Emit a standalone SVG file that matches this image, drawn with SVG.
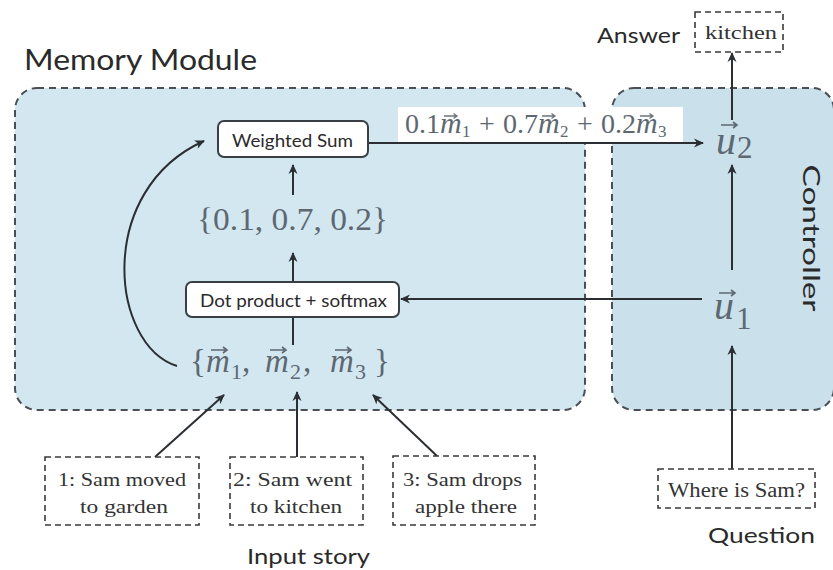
<svg xmlns="http://www.w3.org/2000/svg" width="833" height="570" viewBox="0 0 833 570">
  <defs>
    <marker id="arr" viewBox="0 0 10 10" refX="9" refY="5" markerWidth="10" markerHeight="10" markerUnits="userSpaceOnUse" orient="auto">
      <path d="M0,0.5 L10,5 L0,9.5 L3,5 Z" fill="#2b2f33"/>
    </marker>
    <!-- small vector accent drawn over math symbols -->
    <path id="vec" d="M0,0 H16 M12,-3 L16,0 L12,3" fill="none" stroke="#5e6871" stroke-width="1.6"/>
    <path id="vec-s" d="M0,0 H13 M9.5,-2.5 L13,0 L9.5,2.5" fill="none" stroke="#6b747c" stroke-width="1.3"/>
    <style>
      .sans { font-family: Lato, "Open Sans", "Liberation Sans", sans-serif; fill: #2a2a2a; }
      .serif { font-family: "Liberation Serif", "DejaVu Serif", serif; fill: #333; }
      .math { font-family: "Liberation Serif", "DejaVu Serif", serif; fill: #5e6871; }
      .mi { font-style: italic; }
      .region { stroke: #4a4f55; stroke-width: 2; stroke-dasharray: 7 5; }
      .dash { fill: #fff; stroke: #3a3a3a; stroke-width: 1.6; stroke-dasharray: 6 4; }
      .op { fill: #fff; stroke: #3a3f44; stroke-width: 2; }
      .edge { fill: none; stroke: #2b2f33; stroke-width: 2; }
    </style>
  </defs>

  <rect width="833" height="570" fill="#fff"/>

  <!-- Regions -->
  <g id="memory-module">
    <rect class="region" x="15" y="88" width="570" height="322" rx="22" fill="#d3e7f1"/>
    <text class="sans" x="24" y="70" font-size="28" textLength="233" lengthAdjust="spacingAndGlyphs">Memory Module</text>
  </g>
  <g id="controller">
    <rect class="region" x="612" y="88" width="222" height="322" rx="22" fill="#cae0eb"/>
    <text class="sans" font-size="24" transform="translate(803,238) rotate(90)" text-anchor="middle" textLength="147" lengthAdjust="spacingAndGlyphs">Controller</text>
  </g>

  <!-- Connectors -->
  <g id="connectors">
    <path class="edge" d="M177,366 C110,345 95,190 204,141" marker-end="url(#arr)"/>
    <line class="edge" x1="293" y1="195" x2="293" y2="165" marker-end="url(#arr)"/>
    <line class="edge" x1="293" y1="282" x2="293" y2="253" marker-end="url(#arr)"/>
    <line class="edge" x1="293" y1="345" x2="293" y2="317"/>
    <line class="edge" x1="368" y1="143" x2="703" y2="143" marker-end="url(#arr)"/>
    <line class="edge" x1="702" y1="299" x2="401" y2="299" marker-end="url(#arr)"/>
    <line class="edge" x1="732" y1="270" x2="732" y2="165" marker-end="url(#arr)"/>
    <line class="edge" x1="732" y1="120" x2="732" y2="53" marker-end="url(#arr)"/>
    <line class="edge" x1="732" y1="478" x2="732" y2="346" marker-end="url(#arr)"/>
    <line class="edge" x1="155" y1="457" x2="224" y2="395" marker-end="url(#arr)"/>
    <line class="edge" x1="297" y1="457" x2="297" y2="392" marker-end="url(#arr)"/>
    <line class="edge" x1="437" y1="456" x2="373" y2="395" marker-end="url(#arr)"/>
  </g>

  <!-- Weighted sum label on the memory-to-controller edge -->
  <g id="sum-label">
    <rect x="398" y="107" width="285" height="35" fill="#fff"/>
    <text class="math" y="133" font-size="28"><tspan x="405">0.1</tspan><tspan x="440" class="mi" font-size="30">m</tspan><tspan x="462" y="137" font-size="17">1</tspan><tspan x="479" y="133">+</tspan><tspan x="503">0.7</tspan><tspan x="538" class="mi" font-size="30">m</tspan><tspan x="560" y="137" font-size="17">2</tspan><tspan x="577" y="133">+</tspan><tspan x="601">0.2</tspan><tspan x="636" class="mi" font-size="30">m</tspan><tspan x="658" y="137" font-size="17">3</tspan></text>
    <use href="#vec-s" x="444" y="116"/>
    <use href="#vec-s" x="542" y="116"/>
    <use href="#vec-s" x="640" y="116"/>
  </g>

  <!-- Operations -->
  <g id="weighted-sum">
    <rect class="op" x="218" y="121" width="150" height="36" rx="6"/>
    <text class="sans" x="232" y="147" font-size="17" textLength="121" lengthAdjust="spacingAndGlyphs">Weighted Sum</text>
  </g>
  <g id="weights">
    <text class="math" x="197" y="230" font-size="32" textLength="191" lengthAdjust="spacingAndGlyphs">{0.1, 0.7, 0.2}</text>
  </g>
  <g id="dot-softmax">
    <rect class="op" x="186" y="282" width="213" height="35" rx="6"/>
    <text class="sans" x="200" y="307" font-size="17" textLength="187" lengthAdjust="spacingAndGlyphs">Dot product + softmax</text>
  </g>
  <g id="memories">
    <text class="math" y="372" font-size="33"><tspan x="190">{</tspan><tspan x="206" class="mi">m</tspan><tspan x="231" y="379" font-size="22">1</tspan><tspan x="242" y="372">,</tspan><tspan x="265" class="mi">m</tspan><tspan x="290" y="379" font-size="22">2</tspan><tspan x="303" y="372">,</tspan><tspan x="330" class="mi">m</tspan><tspan x="355" y="379" font-size="22">3</tspan><tspan x="374" y="372">}</tspan></text>
    <use href="#vec" x="211" y="350"/>
    <use href="#vec" x="270" y="350"/>
    <use href="#vec" x="335" y="350"/>
  </g>

  <!-- Controller states -->
  <g id="u1">
    <text class="math" y="319" font-size="40"><tspan x="714" class="mi">u</tspan><tspan x="736" y="329" font-size="31">1</tspan></text>
    <use href="#vec" x="719" y="293"/>
  </g>
  <g id="u2">
    <text class="math" y="154" font-size="40"><tspan x="716" class="mi">u</tspan><tspan x="737" y="158" font-size="31">2</tspan></text>
    <use href="#vec" x="721" y="125"/>
  </g>

  <!-- Answer -->
  <g id="answer">
    <rect class="dash" x="695" y="12" width="88" height="40"/>
    <text class="serif" x="705" y="39" font-size="18" textLength="72" lengthAdjust="spacingAndGlyphs">kitchen</text>
    <text class="sans" x="597" y="43" font-size="21" textLength="83" lengthAdjust="spacingAndGlyphs">Answer</text>
  </g>

  <!-- Question -->
  <g id="question">
    <rect class="dash" x="658" y="469" width="157" height="39"/>
    <text class="serif" x="668" y="497" font-size="20" textLength="137" lengthAdjust="spacingAndGlyphs">Where is Sam?</text>
    <text class="sans" x="708" y="543" font-size="22" textLength="107" lengthAdjust="spacingAndGlyphs">Question</text>
  </g>

  <!-- Input story sentences -->
  <g id="sentence-1">
    <rect class="dash" x="45" y="457" width="154" height="68"/>
    <text class="serif" x="58" y="486" font-size="19" textLength="128" lengthAdjust="spacingAndGlyphs">1: Sam moved</text>
    <text class="serif" x="80" y="513" font-size="19" textLength="88" lengthAdjust="spacingAndGlyphs">to garden</text>
  </g>
  <g id="sentence-2">
    <rect class="dash" x="230" y="457" width="133" height="68"/>
    <text class="serif" x="233" y="486" font-size="19" textLength="119" lengthAdjust="spacingAndGlyphs">2: Sam went</text>
    <text class="serif" x="250" y="513" font-size="19" textLength="92" lengthAdjust="spacingAndGlyphs">to kitchen</text>
  </g>
  <g id="sentence-3">
    <rect class="dash" x="393" y="456" width="142" height="69"/>
    <text class="serif" x="403" y="486" font-size="19" textLength="119" lengthAdjust="spacingAndGlyphs">3: Sam drops</text>
    <text class="serif" x="415" y="513" font-size="19" textLength="102" lengthAdjust="spacingAndGlyphs">apple there</text>
  </g>
  <g id="input-story">
    <text class="sans" x="247" y="564" font-size="21" textLength="123" lengthAdjust="spacingAndGlyphs">Input story</text>
  </g>
</svg>
